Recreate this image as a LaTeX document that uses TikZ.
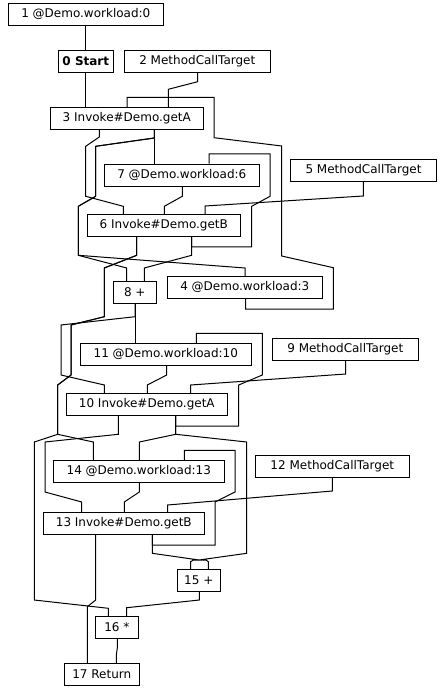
\documentclass[tikz,border=0pt]{standalone}
\usepackage{fontspec}
\setmainfont{DejaVu Sans}
\usepackage{tikz}

\begin{document}
\begin{tikzpicture}[
    x=0.75pt, y=-0.75pt,
    irnode/.style={rectangle, minimum height=16.5pt, inner sep=0pt, text centered, draw=black, fill=white, line width=0.75pt, font=\fontsize{9}{11}\selectfont},
    wire/.style={line width=0.75pt}
]
\useasboundingbox (0,0) rectangle (443,691);

\node[irnode, minimum width=116.25pt] (wl0) at (85.8,14.3) {1 @Demo.workload:0};
\node[irnode, minimum width=41.25pt] (start) at (85.8,61.3) {\textbf{0 Start}};
\node[irnode, minimum width=109.5pt] (mct2) at (197.3,61.3) {2 MethodCallTarget};
\node[irnode, minimum width=114.75pt] (getA3) at (126.8,118.3) {3 Invoke\#Demo.getA};
\node[irnode, minimum width=116.25pt] (wl6) at (181.8,175.2) {7 @Demo.workload:6};
\node[irnode, minimum width=109.5pt] (mct5) at (363.5,170.3) {5 MethodCallTarget};
\node[irnode, minimum width=114.75pt] (getB6) at (163.8,225.5) {6 Invoke\#Demo.getB};
\node[irnode, minimum width=32.25pt] (add8) at (134.8,292.3) {8 +};
\node[irnode, minimum width=116.25pt] (wl3) at (244.8,287.3) {4 @Demo.workload:3};
\node[irnode, minimum width=128.25pt] (wl10) at (165.8,354.3) {11 @Demo.workload:10};
\node[irnode, minimum width=109.5pt] (mct9) at (345.3,349.3) {9 MethodCallTarget};
\node[irnode, minimum width=120.75pt] (getA10) at (146.8,404.3) {10 Invoke\#Demo.getA};
\node[irnode, minimum width=128.25pt] (wl13) at (138.8,471.3) {14 @Demo.workload:13};
\node[irnode, minimum width=115.5pt] (mct12) at (332.3,466.3) {12 MethodCallTarget};
\node[irnode, minimum width=120.75pt] (getB13) at (123.8,523.3) {13 Invoke\#Demo.getB};
\node[irnode, minimum width=32.25pt] (add15) at (198.8,580.3) {15 +};
\node[irnode, minimum width=32.25pt] (mul16) at (116.8,627.3) {16 *};
\node[irnode, minimum width=56.25pt] (ret17) at (101.8,674.3) {17 Return};

\draw[wire] (wl0.south) -- (wl0.south |- start.north);
\draw[wire] (start.south) -- (start.south |- getA3.north);
\draw[wire] (197.7,0 |- mct2.south) -- (197.7,81.7) -- (168.3,89.3) -- (168.3,0 |- getA3.north);
\draw[wire] (245.7,0 |- wl3.south) -- (245.7,309) -- (333.3,309) -- (333.3,267.7) -- (281.7,256) -- (281.7,146) -- (214,137.7) -- (214,97.3) -- (127,97.3) -- (127,0 |- getA3.north);
\draw[wire] (99.3,0 |- getA3.south) -- (99.3,137) -- (85.7,146.3) -- (85.7,196.3) -- (123.3,206.3) -- (123.3,0 |- getB6.north);
\draw[wire] (154.3,0 |- getA3.south) -- (154.3,0 |- wl6.north);
\draw[wire] (154.3,0 |- getA3.south) -- (154.3,138) -- (95.7,146.3) -- (95.7,196.3) -- (78.3,206.3) -- (78.3,255.3) -- (126.7,268) -- (126.7,0 |- add8.north);
\draw[wire] (154.3,0 |- getA3.south) -- (154.3,138) -- (95.7,146.3) -- (95.7,196.3) -- (78.3,206.3) -- (78.3,255.3) -- (245,268) -- (245,0 |- wl3.north);
\draw[wire] (182.3,0 |- wl6.south) -- (182.3,196.3) -- (164.3,206.3) -- (164.3,0 |- getB6.north);
\draw[wire] (191.7,0 |- getB6.south) -- (191.7,247) -- (251.7,247) -- (251.7,206.3) -- (270,196.3) -- (270,154) -- (209,154) -- (209,0 |- wl6.north);
\draw[wire] (363.3,0 |- mct5.south) -- (363.3,196) -- (205,206) -- (205,0 |- getB6.north);
\draw[wire] (191.7,0 |- getB6.south) -- (191.7,255.3) -- (144.3,268) -- (144.3,0 |- add8.north);
\draw[wire] (136.7,0 |- getB6.south) -- (136.7,255.3) -- (104.3,268) -- (104.3,316.7) -- (71,325) -- (71,375) -- (57.7,385) -- (57.7,434.3) -- (93.3,442) -- (93.3,0 |- wl13.north);
\draw[wire] (136.7,0 |- getB6.south) -- (136.7,255.3) -- (104.3,268) -- (104.3,316.7) -- (71,325) -- (71,375) -- (57.7,385) -- (57.7,434.3) -- (34.3,442) -- (34.3,600) -- (108.3,608.3) -- (108.3,0 |- mul16.north);
\draw[wire] (135,0 |- add8.south) -- (135,0 |- wl10.north);
\draw[wire] (135,0 |- add8.south) -- (135,316.7) -- (61,325) -- (61,375) -- (104.3,385) -- (104.3,0 |- getA10.north);
\draw[wire] (166.7,0 |- wl10.south) -- (166.7,375) -- (147.3,385) -- (147.3,0 |- getA10.north);
\draw[wire] (175.7,0 |- getA10.south) -- (175.7,426) -- (238.7,426) -- (238.7,385) -- (262.3,375) -- (262.3,333.3) -- (196.3,333.3) -- (196.3,0 |- wl10.north);
\draw[wire] (345.7,0 |- mct9.south) -- (345.7,374) -- (190.7,385) -- (190.7,0 |- getA10.north);
\draw[wire] (118.3,0 |- getA10.south) -- (118.3,434.3) -- (45,442) -- (45,492) -- (81.7,502) -- (81.7,0 |- getB13.north);
\draw[wire] (175.7,0 |- getA10.south) -- (175.7,434.3) -- (139.3,442) -- (139.3,0 |- wl13.north);
\draw[wire] (175.7,0 |- getA10.south) -- (175.7,434.3) -- (246.7,442) -- (246.7,553.3) -- (199,560) -- (206,560) -- (208.3,561.7) -- (208.3,0 |- add15.north);
\draw[wire] (139.3,0 |- wl13.south) -- (139.3,492) -- (124.3,502) -- (124.3,0 |- getB13.north);
\draw[wire] (152.3,0 |- getB13.south) -- (152.3,545) -- (215,545) -- (215,502) -- (235,492) -- (235,450.3) -- (184.3,450.3) -- (184.3,0 |- wl13.north);
\draw[wire] (332.3,0 |- mct12.south) -- (332.3,491) -- (167.7,505) -- (167.7,0 |- getB13.north);
\draw[wire] (152.3,0 |- getB13.south) -- (152.3,553.3) -- (199,560) -- (193.3,560) -- (190.7,561.7) -- (190.7,0 |- add15.north);
\draw[wire] (95.7,0 |- getB13.south) -- (95.7,600) -- (87.3,606.7) -- (87.3,0 |- ret17.north);
\draw[wire] (199.3,0 |- add15.south) -- (199.3,600) -- (126.7,607.7) -- (126.7,0 |- mul16.north);
\draw[wire] (117.3,0 |- mul16.south) -- (117.3,648) -- (116.3,655) -- (116.3,0 |- ret17.north);

\end{tikzpicture}
\end{document}
